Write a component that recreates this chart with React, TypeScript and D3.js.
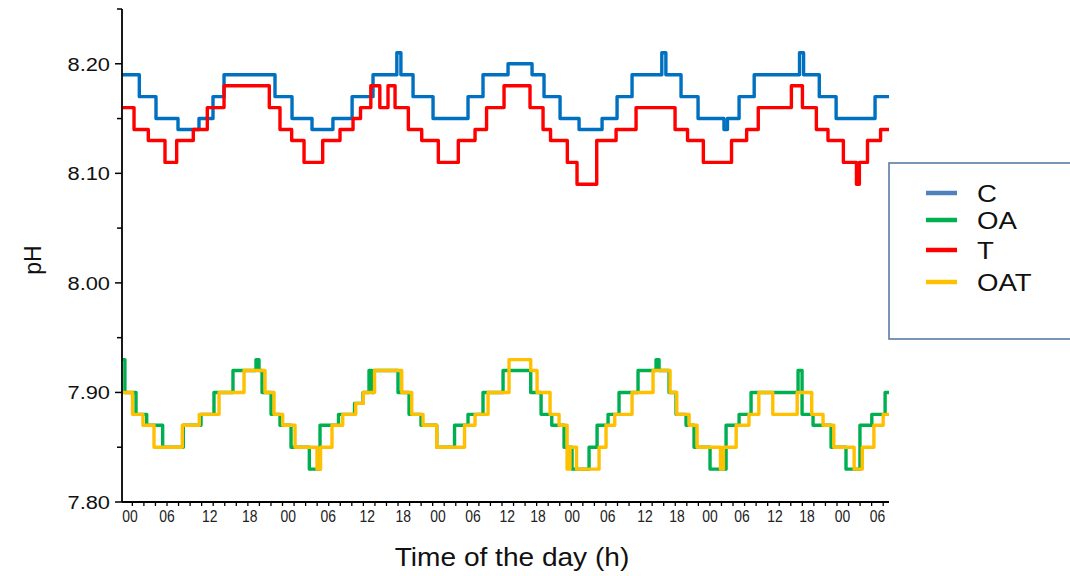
import React from "react";
import * as d3 from "d3";

// step breakpoints: [hour, pH] — value holds until next breakpoint
const seriesC: [number, number][] = [
  [0, 8.19], [2.98, 8.17], [5.85, 8.15], [9.64, 8.14], [13.25, 8.15], [15.66, 8.17], [17.56, 8.19],
  [26.33, 8.17], [29.26, 8.15], [32.7, 8.14], [36.3, 8.15], [39.6, 8.17], [43.2, 8.19], [47.3, 8.21],
  [48.0, 8.19], [50.09, 8.17], [53.53, 8.15], [59.55, 8.17], [62.13, 8.19], [66.44, 8.2], [70.57, 8.19],
  [72.63, 8.17], [75.39, 8.15], [78.66, 8.14], [82.62, 8.15], [85.2, 8.17], [87.78, 8.19], [92.9, 8.21],
  [93.6, 8.19], [96.21, 8.17], [99.14, 8.15], [103.6, 8.14], [104.2, 8.15], [106.2, 8.17], [108.8, 8.19],
  [116.6, 8.21], [117.3, 8.19], [120.0, 8.17], [122.9, 8.15], [129.6, 8.17], [132, 8.17],
];

const seriesT: [number, number][] = [
  [0, 8.16], [2.07, 8.14], [4.53, 8.13], [7.4, 8.11], [9.41, 8.13], [12.27, 8.14], [14.68, 8.16],
  [17.56, 8.18], [25.35, 8.16], [27.19, 8.14], [29.2, 8.13], [31.33, 8.11], [34.54, 8.13], [37.52, 8.14],
  [39.76, 8.15], [41.05, 8.16], [42.82, 8.18], [44.37, 8.16], [45.78, 8.18], [46.99, 8.16], [49.28, 8.14],
  [51.58, 8.13], [54.44, 8.11], [57.88, 8.13], [60.76, 8.14], [62.74, 8.16], [65.75, 8.18], [70.22, 8.16],
  [72.46, 8.14], [73.75, 8.13], [76.64, 8.11], [78.31, 8.09], [81.7, 8.13], [85.03, 8.14], [88.47, 8.16],
  [95.18, 8.14], [97.33, 8.13], [100.05, 8.11], [104.9, 8.13], [107.5, 8.14], [109.5, 8.16], [115.2, 8.18],
  [117.1, 8.16], [119.5, 8.14], [121.5, 8.13], [124.15, 8.11], [126.4, 8.09], [126.9, 8.11], [128.3, 8.13],
  [130.55, 8.14], [132, 8.14],
];

const seriesOA: [number, number][] = [
  [0, 7.93], [0.5, 7.9], [2.41, 7.88], [4.25, 7.87], [7.0, 7.85], [10.55, 7.87], [13.6, 7.88], [15.83, 7.9],
  [19.1, 7.92], [23.06, 7.93], [23.58, 7.92], [24.1, 7.9], [25.65, 7.88], [27.19, 7.87], [29.09, 7.85],
  [32.24, 7.83], [34.08, 7.87], [37.26, 7.88], [40.02, 7.89], [41.48, 7.9], [42.51, 7.92], [42.94, 7.9],
  [43.29, 7.92], [47.5, 7.9], [49.4, 7.88], [51.46, 7.87], [54.17, 7.85], [57.23, 7.87], [59.55, 7.88],
  [62.13, 7.9], [65.58, 7.92], [70.34, 7.9], [72.12, 7.88], [73.96, 7.87], [76.08, 7.85], [77.45, 7.83],
  [80.38, 7.85], [81.76, 7.87], [83.65, 7.88], [85.54, 7.9], [88.81, 7.92], [91.91, 7.93], [92.43, 7.92],
  [94.15, 7.9], [95.35, 7.88], [97.07, 7.87], [98.45, 7.85], [101.2, 7.83], [103.96, 7.87], [106.2, 7.88],
  [108.26, 7.9], [116.35, 7.92], [117.04, 7.88], [118.93, 7.87], [122.03, 7.85], [124.6, 7.83], [127.0, 7.87],
  [129.04, 7.88], [131.33, 7.9], [132, 7.9],
];

const seriesOAT: [number, number][] = [
  [0, 7.9], [1.81, 7.88], [3.61, 7.87], [5.51, 7.85], [10.38, 7.87], [13.3, 7.88], [16.7, 7.9], [21.0, 7.92],
  [24.61, 7.9], [26.16, 7.88], [27.66, 7.87], [29.78, 7.85], [33.56, 7.83], [34.17, 7.85], [36.14, 7.87],
  [37.99, 7.88], [40.22, 7.89], [41.53, 7.9], [43.46, 7.92], [48.14, 7.9], [49.86, 7.88], [51.81, 7.87],
  [54.17, 7.85], [58.95, 7.87], [60.76, 7.88], [63.0, 7.9], [66.61, 7.93], [70.34, 7.92], [71.43, 7.9],
  [73.67, 7.88], [75.22, 7.87], [76.6, 7.83], [77.1, 7.85], [78.23, 7.83], [82.1, 7.85], [83.3, 7.87],
  [84.8, 7.88], [87.78, 7.9], [91.39, 7.92], [94.32, 7.9], [95.47, 7.88], [97.6, 7.87], [98.97, 7.85],
  [103.0, 7.83], [103.5, 7.85], [105.7, 7.87], [107.9, 7.88], [109.6, 7.9], [112.0, 7.88], [116.2, 7.9],
  [118.7, 7.88], [120.65, 7.87], [122.5, 7.85], [126.0, 7.83], [127.4, 7.85], [129.4, 7.87], [131.0, 7.88],
  [132, 7.88],
];

const xLabels = ["00", "06", "12", "18", "00", "06", "12", "18", "00", "06", "12", "18",
  "00", "06", "12", "18", "00", "06", "12", "18", "00", "06"];
const xLabelHours = [1.38, 7.75, 15.1, 22.0, 28.6, 35.5, 42.2, 48.4, 54.4, 60.4, 66.3, 71.6,
  77.5, 83.6, 90.0, 95.5, 101.2, 106.7, 112.4, 117.9, 124.0, 130.0];
const yLabels = [7.8, 7.9, 8.0, 8.1, 8.2];

const legendNames = ["C", "OA", "T", "OAT"];
const lineColors = ["#0070c0", "#00b050", "#ff0000", "#ffc000"];
const legendColors = ["#4f81bd", "#00b050", "#ff0000", "#ffc000"];

const W = 1070, H = 576;
const left = 122, right = 889, top = 9, bottom = 502;

export default function App() {
  const x = d3.scaleLinear().domain([0, 132]).range([left, right]);
  const y = d3.scaleLinear().domain([7.8, 8.25]).range([bottom, top]);
  const line = d3.line<[number, number]>()
    .x((d) => x(d[0]))
    .y((d) => y(d[1]))
    .curve(d3.curveStepAfter);

  const series = [seriesC, seriesOA, seriesT, seriesOAT];
  const yMinor = d3.range(7.8, 8.2501, 0.05);
  const xTicks = d3.range(66).map((k) => 1.78 + k * 1.988);
  const font = "'Liberation Sans', Arial, sans-serif";

  return (
    <svg width={W} height={H} style={{ position: "absolute", left: 0, top: 0, background: "#fff" }}
      fontFamily={font}>
      {/* data lines */}
      {[0, 2, 1, 3].map((i) => (
        <path key={i} d={line(series[i]) || ""} fill="none" stroke={lineColors[i]}
          strokeWidth={3.4} strokeLinejoin="round" />
      ))}

      {/* y axis */}
      <line x1={left} x2={left} y1={top} y2={bottom} stroke="#000" strokeWidth={1.8} />
      {yMinor.map((v, i) => (
        <line key={i} x1={left - (i % 2 === 0 ? 7 : 5)} x2={left} y1={y(v)} y2={y(v)}
          stroke="#000" strokeWidth={1.5} />
      ))}
      {yLabels.map((v) => (
        <text key={v} transform={`translate(110,${y(v)}) scale(1.15,1)`} dy="0.36em" textAnchor="end"
          fontSize={19} fill="#111">
          {d3.format(".2f")(v)}
        </text>
      ))}
      <text transform={`translate(41,${260}) rotate(-90)`} textAnchor="middle" fontSize={23} fill="#111">pH</text>

      {/* x axis */}
      <line x1={left} x2={right} y1={bottom} y2={bottom} stroke="#000" strokeWidth={1.8} />
      {xTicks.map((h, i) => (
        <line key={i} x1={x(h)} x2={x(h)} y1={bottom} y2={bottom + 4} stroke="#000" strokeWidth={1.3} />
      ))}
      {xLabels.map((t, i) => (
        <text key={i} transform={`translate(${x(xLabelHours[i])},${522}) scale(0.82,1)`}
          textAnchor="middle" fontSize={17} fill="#222">{t}</text>
      ))}
      <text transform={`translate(512,566) scale(1.08,1)`} textAnchor="middle" fontSize={26} fill="#111">
        Time of the day (h)
      </text>

      {/* legend */}
      <rect x={889} y={163} width={200} height={176} fill="#fff" stroke="#5b7aa6" strokeWidth={1.6} />
      {legendNames.map((n, i) => {
        const ly = [193, 220, 250, 282][i];
        return (
          <g key={n}>
            <line x1={926} x2={957} y1={ly} y2={ly} stroke={legendColors[i]} strokeWidth={4.5} />
            <text transform={`translate(977,${ly}) scale(1.15,1)`} dy="0.36em" fontSize={24} fill="#111">{n}</text>
          </g>
        );
      })}
    </svg>
  );
}
